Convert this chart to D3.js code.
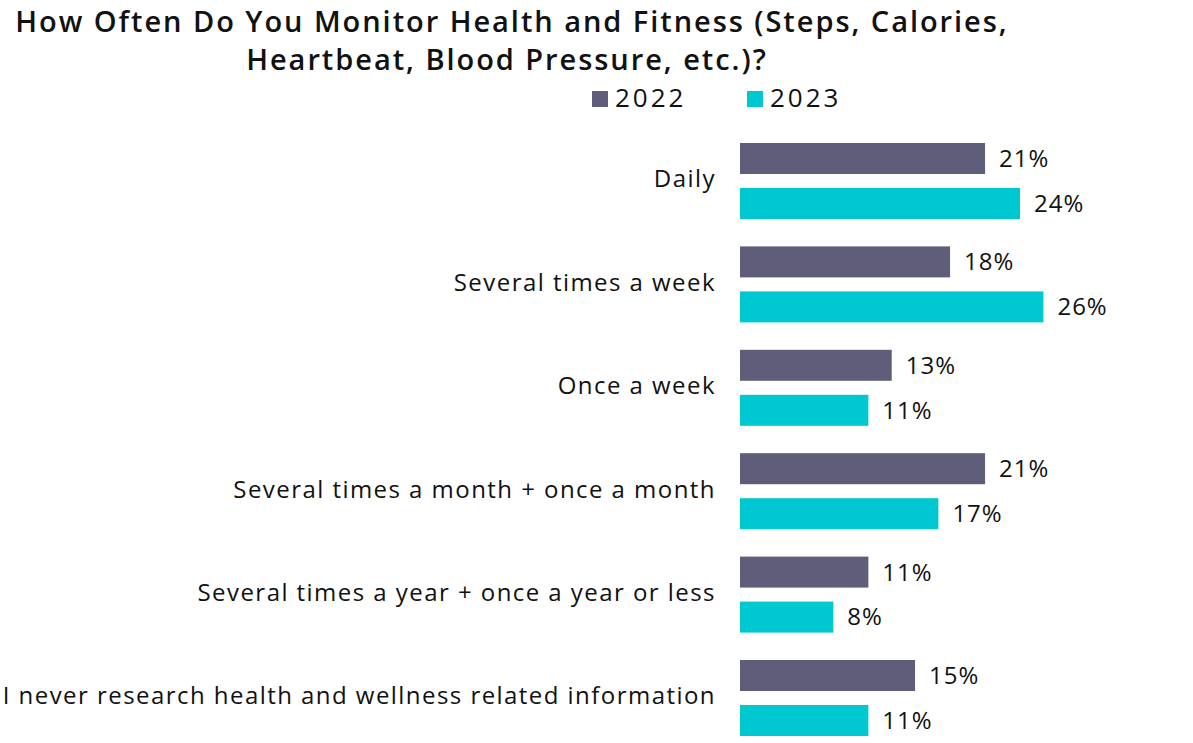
<!DOCTYPE html>
<html><head><meta charset="utf-8">
<script src="https://cdn.jsdelivr.net/npm/d3@7"></script>
<style>body{margin:0;background:#fff}svg{display:block}text{font-family:"Open Sans",sans-serif;fill:#111}</style>
</head><body>
<script>
const categories = ["Daily","Several times a week","Once a week","Several times a month + once a month","Several times a year + once a year or less","I never research health and wellness related information"];
const seriesNames = ["2022","2023"];
const values2022 = [21,18,13,21,11,15];
const values2023 = [24,26,11,17,8,11];
const colors = ["#5f5e7a","#00c8d0"];
const titleLines = ["How Often Do You Monitor Health and Fitness (Steps, Calories,","Heartbeat, Blood Pressure, etc.)?"];

const W=1193,H=743;
const svg=d3.select("body").append("svg").attr("width",W).attr("height",H);

const x=d3.scaleLinear().domain([0,10]).range([740,740+116.7]);
const y=d3.scaleBand().domain(categories).range([143,143+5*103.4+76]).paddingInner(0.265).paddingOuter(0);
const yi=d3.scaleBand().domain(seriesNames).range([0,y.bandwidth()]).paddingInner(0.311);

svg.selectAll("text.title").data(titleLines).join("text").attr("class","title")
  .attr("x",(d,i)=>i===0?512:507).attr("y",(d,i)=>32+i*38).attr("text-anchor","middle")
  .style("font-size","29px").style("font-weight","600").style("letter-spacing","1.95px").text(d=>d);

const leg=[{n:"2022",x:592},{n:"2023",x:747}];
leg.forEach((l,i)=>{
  svg.append("rect").attr("x",l.x).attr("y",91).attr("width",16).attr("height",16).attr("fill",colors[i]);
  svg.append("text").attr("x",l.x+23).attr("y",107).style("font-size","26px").style("letter-spacing","3px").text(l.n);
});

const data=seriesNames.map((s,i)=>({s,vals:[values2022,values2023][i]}));
categories.forEach((c,ci)=>{
  svg.append("text").attr("x",716).attr("y",y(c)+y.bandwidth()/2-2).attr("dy","0.35em")
    .attr("text-anchor","end").style("font-size","24px").style("letter-spacing","1.45px").text(c);
  data.forEach((d,si)=>{
    const v=d.vals[ci];
    const yy=y(c)+yi(d.s);
    svg.append("rect").attr("x",x(0)).attr("y",yy).attr("width",x(v)-x(0)).attr("height",yi.bandwidth()).attr("fill",colors[si]);
    svg.append("text").attr("x",x(v)+14).attr("y",yy+yi.bandwidth()/2).attr("dy","0.35em")
      .style("font-size","24px").style("letter-spacing","1px").text(v+"%");
  });
});
</script>
</body></html>
